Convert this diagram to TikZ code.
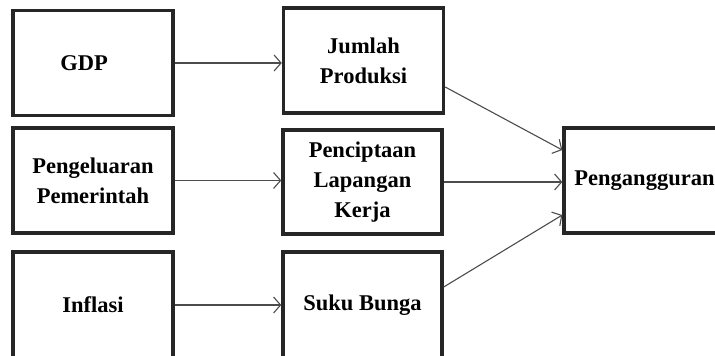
\documentclass[tikz,border=0pt]{standalone}
\usepackage{fontspec}
\setmainfont{Liberation Serif}
\usetikzlibrary{arrows.meta}
\begin{document}
\begin{tikzpicture}[x=1pt,y=-1pt,
  box/.style={draw=black!85, line width=3.4pt, rectangle, inner sep=0pt,
    minimum width=160pt, minimum height=105pt, align=center,
    font=\fontsize{22.5}{30}\selectfont\bfseries},
  link/.style={draw=black!70, line width=1.1pt,
    -{Straight Barb[length=7pt,width=16pt,line width=1.1pt]}}]
\useasboundingbox (0,0) rectangle (715,356);
\clip (0,0) rectangle (715,356);
\node[box] (g) at (93,63) {\hspace*{-18pt}GDP};
\node[box] (pe) at (93,180.5) {Pengeluaran\\Pemerintah};
\node[box, minimum height=106pt] (inf) at (93,305) {Inflasi};
\node[box] (j) at (363.5,60.5) {Jumlah\\Produksi};
\node[box, minimum width=159pt, minimum height=104pt] (k) at (362.5,182) {Penciptaan\\Lapangan\\Kerja};
\node[box, minimum width=159pt, minimum height=106pt] (s) at (362.5,305) {Suku Bunga};
\node[box, minimum width=180pt] (p) at (654,180.5) {Pengangguran\hspace*{19pt}};
\draw[link] (g.east) -- (j.west |- g.east);
\draw[link] (pe.east) -- (k.west |- pe.east);
\draw[link] (inf.east) -- (s.west |- inf.east);
\draw[link] ([yshift=-26.5pt]j.east) -- ([yshift=30.5pt]p.west);
\draw[link] (k.east) -- (p.west |- k.east);
\draw[link] ([yshift=18pt]s.east) -- ([yshift=-34.5pt]p.west);
\end{tikzpicture}
\end{document}
